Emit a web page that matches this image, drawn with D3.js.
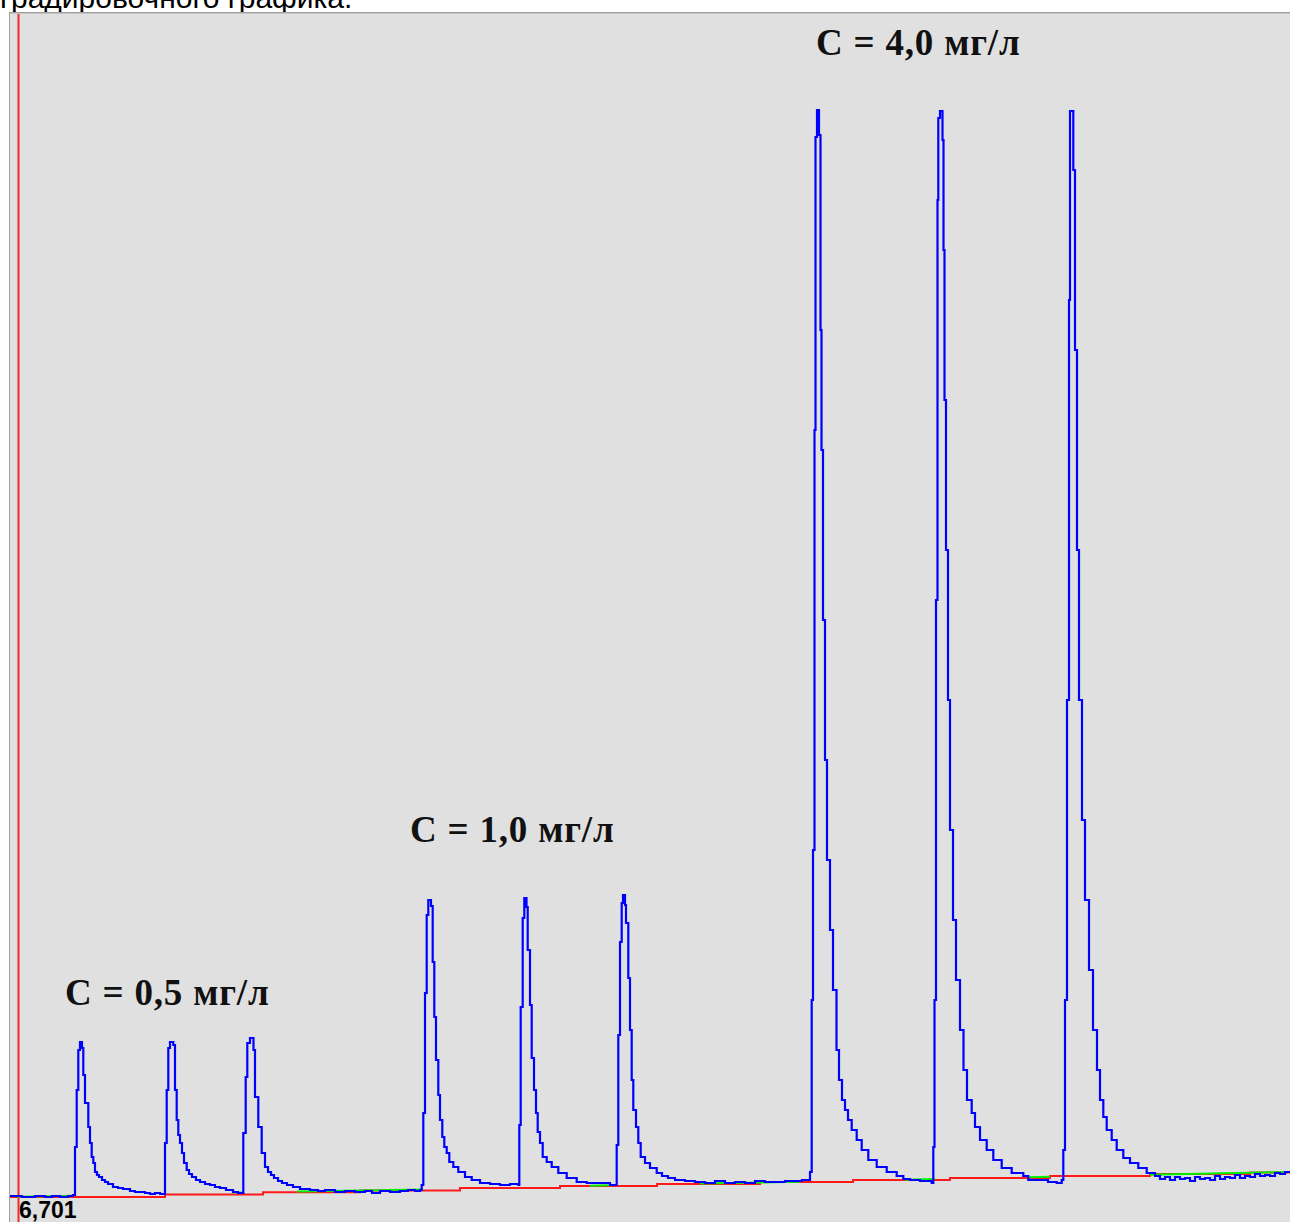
<!DOCTYPE html>
<html><head><meta charset="utf-8">
<script src="https://cdn.jsdelivr.net/npm/d3@7/dist/d3.min.js"></script>
<style>html,body{margin:0;padding:0;background:#fff;overflow:hidden}</style>
</head><body>
<svg id="chart" width="1290" height="1222"></svg>
<script>
// ---- data (time index t, signal v) ----
const captionText = "градировочного графика.";
const cornerValue = "6,701";
const markerT = 8.5;

const baseStart = [[0,4],[12,3],[25,4],[35,3],[42,4],[50,3],[58,4],[63,5]];
const peak1 = [[65,53],[66.7,110],[68.3,150],[70,158],[72,152],[73.3,125],[75,97],[78.3,73],[80,57],[81.7,43],[83.3,37],[85,28],[87,25],[89,23],[92,20],[95,18],[98,16],[103,13],[108,12],[113,11],[120,9],[125,8],[135,7],[140,6],[145,7],[150,6],[153,6]];
const peak2 = [[155,57],[156.7,110],[158.3,152],[160,158],[163.3,155],[165,110],[166.7,80],[168.3,65],[170,57],[172,47],[174,37],[176.7,30],[179,26],[182,23],[186,20],[190,18],[195,16],[200,15],[205,13],[210,12],[216,10],[223,8],[228,7],[232,7]];
const peak3 = [[233.3,67],[235.7,123],[237.3,157],[240,162],[243.5,150],[245,103],[248.3,73],[251.7,47],[255,33],[258,28],[261,25],[264,22],[268,19],[272,17],[277,15],[283,13],[290,11],[300,10],[308,9],[315,10],[325,8],[335,9],[345,8],[355,9],[362,7],[370,9],[380,8],[390,9],[398,10],[405,9],[410,10]];
const peak4 = [[411.7,15],[413.3,87],[415,207],[416.7,285],[418.3,300],[421,294],[422.7,238],[424.3,183],[426,140],[428.3,105],[430,80],[432.3,63],[434.3,53],[436.7,47],[439.3,38],[443.3,33],[448.3,28],[455,23],[461.7,20],[470,17],[480,16],[490,15],[500,16],[508.3,15]];
const peak5 = [[509.3,75],[510.7,193],[512.7,282],[514.3,302],[516.5,293],[517.7,250],[520,195],[521.7,142],[524,110],[526,87],[527.7,68],[530,57],[532.7,43],[536.7,38],[541.7,33],[548.3,27],[556.7,22],[566.7,18],[576.7,17],[590,17],[600,15],[605,15]];
const peak6 = [[606.7,55],[608.3,165],[610,258],[611.7,297],[613,305],[615,295],[616,277],[618.3,222],[620,170],[621.7,120],[623.3,90],[626,73],[628.3,57],[630.7,43],[635,37],[640,32],[646.7,27],[652,24],[658,22],[665,20],[675,19],[685,18],[695,17],[705,19],[715,17],[725,18],[735,17],[745,19],[755,18],[765,18],[775,19],[785,19],[792,20],[798,20]];
const peak7 = [[800,28],[801.7,200],[803,350],[804.5,770],[805.5,1063],[807,1090],[809,1065],[810.5,870],[811.5,750],[813,580],[815,440],[817,340],[820,270],[823,210],[826.5,150],[829,120],[832,100],[835,90],[838,80],[841.7,70],[846.7,60],[851.7,50],[858.3,40],[866.7,33],[876.7,28],[886.7,24],[893.3,21],[900,20],[910,19],[921.7,17]];
const peak8 = [[923.3,53],[924.5,200],[926,600],[927.5,1000],[928.3,1082],[930,1089],[932.5,1060],[933.5,950],[934.5,800],[936,650],[938,500],[940,370],[943,280],[946,220],[950,170],[953.5,130],[957,100],[961.7,87],[965,73],[970,60],[976.7,50],[983.3,40],[991.7,32],[1001.7,27],[1013.3,24],[1018.3,20],[1033,20],[1038,18],[1046.7,17],[1051.7,20]];
const peak9 = [[1053.3,50],[1055,200],[1057,500],[1059,900],[1060,1089],[1063.3,1030],[1065,850],[1067,650],[1069,500],[1072,380],[1075,300],[1079,230],[1083,170],[1087,130],[1090,100],[1093.3,83],[1096.7,70],[1101.7,60],[1106.7,50],[1113.3,42],[1120,37],[1128.3,32],[1136.7,27],[1145,24],[1150,21],[1155,23],[1160,20],[1165,23],[1170,21],[1175,22],[1180,19],[1185,23],[1190,21],[1195,22],[1200,20],[1205,24],[1210,21],[1215,23],[1220,22],[1225,25],[1230,22],[1235,24],[1240,23],[1245,26],[1250,24],[1255,25],[1260,24],[1265,27],[1270,26],[1275,28],[1280,28]];

const baselineSteps = [[0,3],[155,5.5],[253,7.7],[350,9.5],[450,12],[550,14],[647,16],[750,18],[843,20],[940,22],[1040,24],[1140,26],[1240,27.5],[1280,28]];
const greenSegments = [[7,3.2,63,4.3],[223,7.4,232,7.6],[287,8.6,413,10.5],[580,14.3,600,14.7],[690,16.4,790,18.3],[895,20.3,925,20.9],[1017,22.8,1040,23.3],[1140,25.3,1280,28]];

const labelTexts = ["C = 0,5 мг/л", "C = 1,0 мг/л", "C = 4,0 мг/л"];
const labelT = [55, 400, 806];
const labelV = [195, 358, 1145];

// ---- drawing ----
const W = 1290, H = 1222;
const svg = d3.select("#chart");
const x = d3.scaleLinear().domain([0, 1280]).range([10, 1290]);
const y = d3.scaleLinear().domain([0, 1200]).range([1200, 0]);

// caption (cut off at top, as in the source)
svg.append("text").attr("x", 0).attr("y", 8)
  .attr("font-family", "Liberation Sans, Arial, sans-serif").attr("font-size", 30)
  .attr("fill", "#000").text(captionText);

// panel
svg.append("rect").attr("x", 9).attr("y", 12).attr("width", W - 9).attr("height", H - 12).attr("fill", "#e0e0e0");
svg.append("line").attr("x1", 9).attr("x2", W).attr("y1", 12.5).attr("y2", 12.5).attr("stroke", "#a0a0a0").attr("stroke-width", 1);
svg.append("line").attr("x1", 9).attr("x2", W).attr("y1", 13.5).attr("y2", 13.5).attr("stroke", "#c4c4c4").attr("stroke-width", 1);
svg.append("line").attr("x1", 9.5).attr("x2", 9.5).attr("y1", 12).attr("y2", H).attr("stroke", "#a0a0a0").attr("stroke-width", 1);

// marker line
svg.append("line").attr("x1", x(markerT)).attr("x2", x(markerT)).attr("y1", 14).attr("y2", H)
  .attr("stroke", "#ee2a2a").attr("stroke-width", 2);

// red baseline
const stepLine = d3.line().x(d => x(d[0])).y(d => y(d[1])).curve(d3.curveStepAfter);
svg.append("path").datum(baselineSteps).attr("d", stepLine)
  .attr("fill", "none").attr("stroke", "#ff1a1a").attr("stroke-width", 2);

// green segments
svg.selectAll("line.green").data(greenSegments).join("line").attr("class", "green")
  .attr("x1", d => x(d[0])).attr("y1", d => y(d[1])).attr("x2", d => x(d[2])).attr("y2", d => y(d[3]))
  .attr("stroke", "#00ee00").attr("stroke-width", 2);

// blue signal
const signal = [].concat(baseStart, peak1, peak2, peak3, peak4, peak5, peak6, peak7, peak8, peak9);
svg.append("path").datum(signal).attr("d", stepLine)
  .attr("fill", "none").attr("stroke", "#0000ff").attr("stroke-width", 2.2);

// concentration labels
svg.selectAll("text.conc").data(labelTexts).join("text").attr("class", "conc")
  .attr("x", (d, i) => x(labelT[i])).attr("y", (d, i) => y(labelV[i]))
  .attr("font-family", "Liberation Serif, 'Times New Roman', serif").attr("font-weight", "bold")
  .attr("font-size", 37).attr("letter-spacing", 0.8).attr("fill", "#111").text(d => d);

// corner value
svg.append("text").attr("x", 19).attr("y", 1218)
  .attr("font-family", "Liberation Sans, Arial, sans-serif").attr("font-weight", "bold")
  .attr("font-size", 23).attr("fill", "#000").text(cornerValue);
</script>
</body></html>
